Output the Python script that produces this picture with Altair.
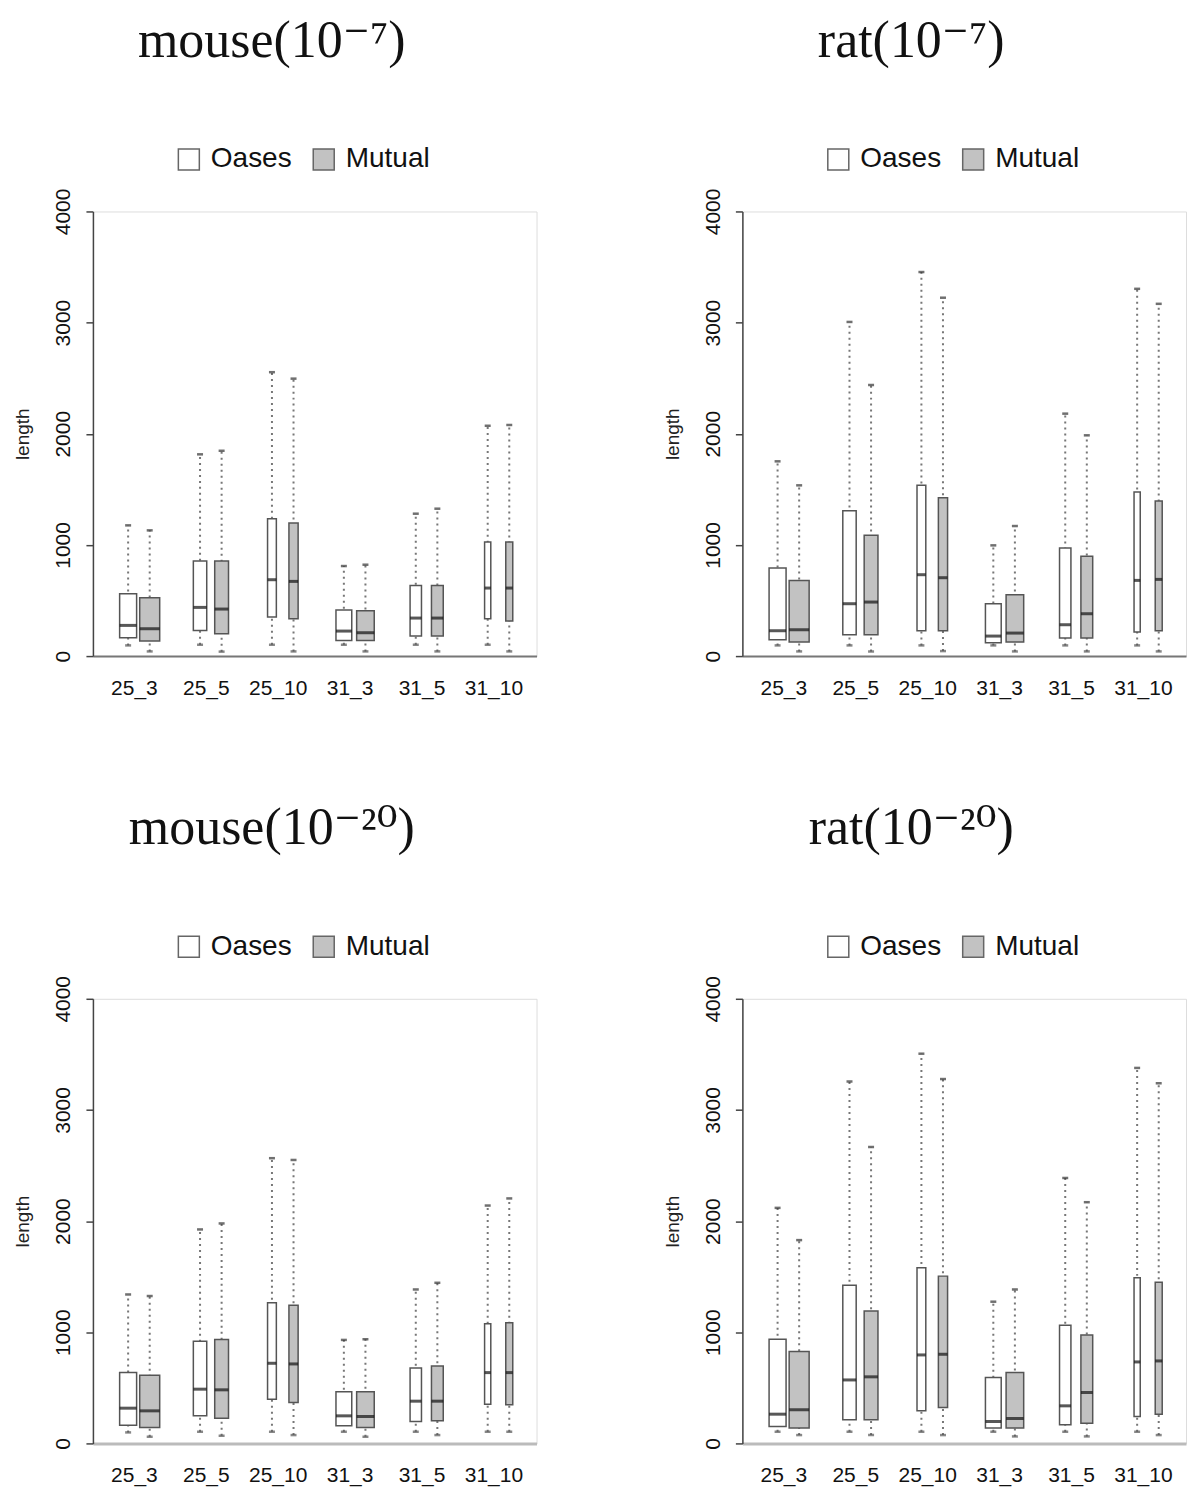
import altair as alt
import pandas as pd

# ---------------- data ----------------
groups = ["25_3", "25_5", "25_10", "31_3", "31_5", "31_10"]
series_names = ["Oases", "Mutual"]
panel_titles = ["mouse(10⁻⁷)", "rat(10⁻⁷)", "mouse(10⁻²⁰)", "rat(10⁻²⁰)"]
y_ticks = [0, 1000, 2000, 3000, 4000]

# (lower whisker, Q1, median, Q3, upper whisker) per group
mouse7_oases = [(96, 165, 276, 561, 1176), (102, 231, 438, 855, 1815), (102, 351, 687, 1236, 2554),
                (102, 141, 225, 414, 810), (102, 180, 342, 636, 1281), (102, 336, 612, 1026, 2072)]
mouse7_mutual = [(42, 135, 246, 525, 1131), (40, 201, 423, 855, 1847), (42, 336, 672, 1197, 2496),
                 (42, 141, 210, 408, 822), (42, 180, 342, 636, 1326), (42, 315, 612, 1026, 2079)]

rat7_oases = [(96, 147, 228, 792, 1752), (96, 192, 471, 1308, 3006), (96, 228, 732, 1536, 3455),
              (96, 120, 180, 471, 996), (96, 162, 282, 972, 2181), (96, 216, 681, 1476, 3304)]
rat7_mutual = [(42, 126, 237, 681, 1536), (42, 192, 486, 1086, 2438), (45, 228, 705, 1425, 3224),
               (42, 126, 207, 552, 1170), (42, 162, 381, 897, 1986), (42, 228, 690, 1395, 3169)]

mouse20_oases = [(99, 164, 317, 637, 1340), (105, 248, 488, 919, 1925), (105, 398, 721, 1266, 2566),
                 (105, 159, 248, 464, 931), (105, 197, 380, 679, 1385), (105, 353, 637, 1077, 2140)]
mouse20_mutual = [(60, 144, 293, 613, 1326), (69, 227, 482, 934, 1979), (75, 368, 715, 1242, 2550),
                  (60, 144, 242, 464, 937), (75, 203, 380, 697, 1445), (105, 347, 637, 1086, 2204)]

rat20_oases = [(105, 153, 263, 937, 2119), (105, 212, 571, 1424, 3256), (105, 293, 796, 1580, 3506),
               (105, 138, 197, 592, 1275), (105, 168, 338, 1062, 2388), (105, 242, 733, 1490, 3378)]
rat20_mutual = [(75, 138, 302, 826, 1829), (75, 212, 599, 1191, 2666), (75, 323, 802, 1505, 3278),
                (63, 138, 224, 637, 1385), (63, 182, 458, 976, 2170), (75, 263, 742, 1451, 3240)]

# relative box widths (varwidth, proportional to sqrt(n))
rel_width_oases = [0.85, 0.67, 0.44, 0.79, 0.57, 0.31]
rel_width_mutual = [1.0, 0.69, 0.46, 0.88, 0.59, 0.35]

# ---------------- layout / style ----------------
slot = {"Oases": 0.42, "Mutual": 0.72}
SANS = "Liberation Sans"
SERIF = "Liberation Serif, DejaVu Serif"


def panel_frame(oases, mutual):
    rows = []
    for i, g in enumerate(groups):
        for s, stats, w in (("Oases", oases[i], rel_width_oases[i]),
                            ("Mutual", mutual[i], rel_width_mutual[i])):
            lo, q1, med, q3, hi = stats
            rows.append(dict(group=g, series=s, pos=i + slot[s], low=lo, q1=q1,
                             median=med, q3=q3, high=hi, w=w))
    return pd.DataFrame(rows)


label_array = "[" + ",".join("'%s'" % g for g in groups) + "]"


def panel(df, title, dx, xline_color, xline_width):
    x_axis = alt.Axis(values=[i + 0.5 for i in range(len(groups))],
                      labelExpr=label_array + "[floor(datum.value)]",
                      title=None, ticks=False, grid=False,
                      domainColor=xline_color, domainWidth=xline_width,
                      labelFont=SANS, labelFontSize=21, labelColor="#111",
                      labelPadding=21)
    y_axis = alt.Axis(values=y_ticks, format="d", title="length", grid=False,
                      labelAngle=270, labelFont=SANS, labelFontSize=21, labelColor="#111",
                      labelPadding=12, tickSize=7, tickColor="#444", tickWidth=1.5,
                      domainColor="#444", domainWidth=1.5,
                      titleFont=SANS, titleFontSize=19, titleFontWeight="normal",
                      titleColor="#222", titlePadding=20)
    xs = alt.Scale(domain=[0, 6.03], nice=False, zero=False)
    ys = alt.Scale(domain=[0, 4000], nice=False)
    X = alt.X("pos:Q", scale=xs, axis=x_axis)
    size_scale = alt.Scale(domain=[0, 1], range=[0, 20])

    base = alt.Chart(df)
    whisk = base.mark_rule(strokeDash=[2, 4], color="#777", strokeWidth=2).encode(
        x=X, y=alt.Y("low:Q", scale=ys, axis=y_axis), y2="high:Q")
    cap_hi = base.mark_tick(orient="horizontal", thickness=2.5, size=6, color="#333").encode(
        x=X, y=alt.Y("high:Q", scale=ys, axis=y_axis))
    cap_lo = base.mark_tick(orient="horizontal", thickness=2.5, size=6, color="#555").encode(
        x=X, y=alt.Y("low:Q", scale=ys, axis=y_axis))
    box = base.mark_bar(stroke="#555", strokeWidth=1.5).encode(
        x=X, y=alt.Y("q1:Q", scale=ys, axis=y_axis), y2="q3:Q",
        size=alt.Size("w:Q", scale=size_scale, legend=None),
        fill=alt.Fill("series:N",
                      scale=alt.Scale(domain=series_names, range=["#ffffff", "#c2c2c2"]),
                      legend=alt.Legend(orient="none", legendX=82, legendY=-66,
                                        direction="horizontal", title=None,
                                        symbolType="square", symbolSize=441,
                                        symbolStrokeColor="#666", symbolStrokeWidth=1.5,
                                        labelFont=SANS, labelFontSize=28, labelColor="#111",
                                        labelOffset=8, columnPadding=18, padding=0)))
    med = base.mark_tick(orient="horizontal", thickness=3, color="#111").encode(
        x=X, y=alt.Y("median:Q", scale=ys, axis=y_axis),
        size=alt.Size("w:Q", scale=size_scale, legend=None))

    return alt.layer(whisk, cap_hi, cap_lo, box, med).properties(
        width=444, height=445,
        title=alt.TitleParams(text=title, font=SERIF, fontSize=52, fontWeight="normal",
                              color="#111", anchor="middle", frame="group", dx=dx, offset=78))


p1 = panel(panel_frame(mouse7_oases, mouse7_mutual), panel_titles[0], -43, "#777", 2)
p2 = panel(panel_frame(rat7_oases, rat7_mutual), panel_titles[1], -53, "#777", 2)
p3 = panel(panel_frame(mouse20_oases, mouse20_mutual), panel_titles[2], -43, "#bbb", 3)
p4 = panel(panel_frame(rat20_oases, rat20_mutual), panel_titles[3], -53, "#bbb", 3)

chart = alt.concat(p1, p2, p3, p4, columns=2, spacing={"row": 102, "column": 125}).resolve_scale(
    fill="independent", size="independent").resolve_legend(fill="independent").configure_view(
    stroke=None).configure(background="white")

chart.save("out.html", embed_options={"renderer": "svg", "actions": False})
